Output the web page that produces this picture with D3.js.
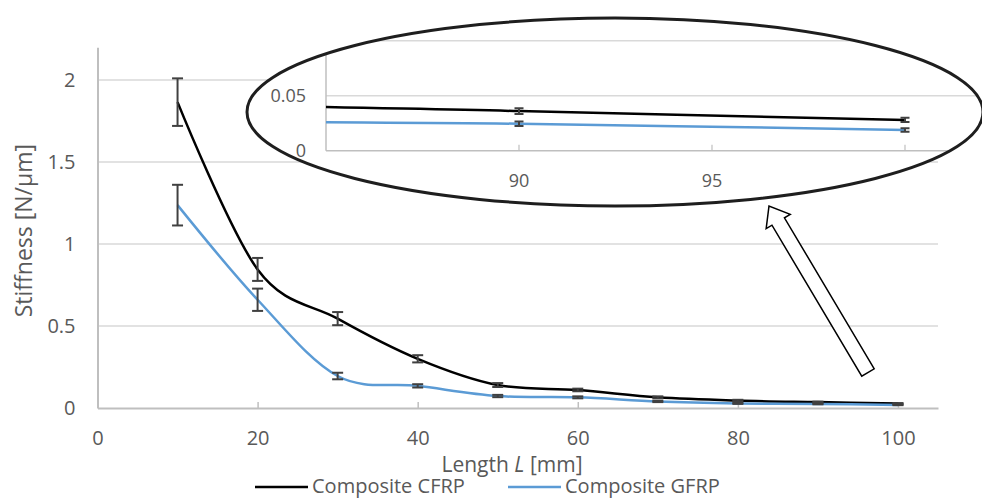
<!DOCTYPE html>
<html>
<head>
<meta charset="utf-8">
<script src="https://cdn.jsdelivr.net/npm/d3@7"></script>
<style>
  html, body { margin: 0; padding: 0; background: #fff; }
  svg { display: block; font-family: "Open Sans", "Noto Sans", sans-serif; }
</style>
</head>
<body>
<svg id="chart" width="982" height="498"></svg>
<script>
// Specimen lengths [mm]
const lengths = [10, 20, 30, 40, 50, 60, 70, 80, 90, 100];
// Mean stiffness [N/µm] and standard deviation per series
const cfrp    = [1.865, 0.845, 0.545, 0.300, 0.140, 0.110, 0.065, 0.045, 0.036, 0.028];
const cfrpErr = [0.145, 0.070, 0.040, 0.022, 0.012, 0.008, 0.006, 0.005, 0.0026, 0.002];
const gfrp    = [1.237, 0.660, 0.195, 0.135, 0.073, 0.065, 0.040, 0.028, 0.0245, 0.0188];
const gfrpErr = [0.124, 0.068, 0.020, 0.010, 0.007, 0.006, 0.004, 0.003, 0.002, 0.0015];
const seriesNames = ["Composite CFRP", "Composite GFRP"];

// Tick values for the main plot and the zoomed inset
const xTicks = [0, 20, 40, 60, 80, 100];
const yTicks = [0, 0.5, 1, 1.5, 2];
const insetXTicks = [90, 95, 100];
const insetYTicks = [0, 0.05];

const colors = ["#000000", "#5b9bd5"];
const gridColor = "#d9d9d9";
const axisColor = "#bfbfbf";
const textColor = "#595959";
const errColor = "#404040";

const series = [
  { name: seriesNames[0], values: cfrp, err: cfrpErr, color: colors[0] },
  { name: seriesNames[1], values: gfrp, err: gfrpErr, color: colors[1] }
];

const svg = d3.select("#chart");

// ---------- main plot ----------
const x = d3.scaleLinear().domain([0, 105]).range([97.5, 938]);
const y = d3.scaleLinear().domain([0, 2.2]).range([408, 47.2]);

const g = svg.append("g");

// horizontal gridlines
g.selectAll("line.grid").data(yTicks.filter(d => d > 0)).join("line")
  .attr("x1", x(0)).attr("x2", x(105))
  .attr("y1", d => y(d)).attr("y2", d => y(d))
  .attr("stroke", gridColor).attr("stroke-width", 1.5);

// x axis with inward ticks
const xAxis = d3.axisBottom(x).tickValues(xTicks).tickSizeInner(-6).tickSizeOuter(0).tickPadding(23);
const gx = g.append("g").attr("transform", `translate(0,${y(0)})`).call(xAxis);
gx.select(".domain").attr("stroke", axisColor).attr("stroke-width", 2);
gx.selectAll(".tick line").attr("stroke", axisColor).attr("stroke-width", 1.5)
  .attr("opacity", d => d === 0 ? 0 : 1);
gx.selectAll(".tick text").attr("fill", textColor).attr("font-size", 20)
  .attr("font-family", "Open Sans").attr("dy", "0.71em");

// y axis (line only, labels to the left)
const yAxis = d3.axisLeft(y).tickValues(yTicks).tickFormat(d => String(d)).tickSize(0).tickPadding(22);
const gy = g.append("g").attr("transform", `translate(${x(0)},0)`).call(yAxis);
gy.select(".domain").attr("stroke", axisColor).attr("stroke-width", 2);
gy.selectAll(".tick text").attr("fill", textColor).attr("font-size", 20)
  .attr("font-family", "Open Sans");

// axis titles
g.append("text")
  .attr("transform", `translate(24,${(y(0) + y(2.2)) / 2 + 3}) rotate(-90)`)
  .attr("text-anchor", "middle").attr("dy", "0.35em")
  .attr("fill", textColor).attr("font-size", 23)
  .text("Stiffness [N/µm]");

const xt = g.append("text")
  .attr("x", 512).attr("y", 472)
  .attr("text-anchor", "middle")
  .attr("fill", textColor).attr("font-size", 21);
xt.append("tspan").text("Length ");
xt.append("tspan").attr("font-style", "italic").text("L");
xt.append("tspan").text(" [mm]");

function drawSeries(parent, sx, sy, capHalf, width) {
  const ln = d3.line().x((d, i) => sx(lengths[i])).y(d => sy(d)).curve(d3.curveCardinal.tension(0));
  series.forEach(s => {
    parent.append("path")
      .attr("d", ln(s.values))
      .attr("fill", "none")
      .attr("stroke", s.color)
      .attr("stroke-width", width)
      .attr("stroke-linejoin", "round");
  });
  series.forEach(s => {
    const eb = parent.append("g").attr("stroke", errColor).attr("stroke-width", 2).attr("fill", "none");
    s.values.forEach((v, i) => {
      const cx = sx(lengths[i]);
      const top = sy(v + s.err[i]), bot = sy(v - s.err[i]);
      eb.append("line").attr("x1", cx).attr("x2", cx).attr("y1", top).attr("y2", bot);
      eb.append("line").attr("x1", cx - capHalf).attr("x2", cx + capHalf).attr("y1", top).attr("y2", top);
      eb.append("line").attr("x1", cx - capHalf).attr("x2", cx + capHalf).attr("y1", bot).attr("y2", bot);
    });
  });
}

drawSeries(g, x, y, 5.5, 2.5);

// ---------- zoomed inset inside an ellipse ----------
const ell = { cx: 615, cy: 112, rx: 368, ry: 94 };
const defs = svg.append("defs");
defs.append("clipPath").attr("id", "ellClip")
  .append("ellipse").attr("cx", ell.cx).attr("cy", ell.cy).attr("rx", ell.rx).attr("ry", ell.ry);
defs.append("clipPath").attr("id", "insetClip")
  .append("rect").attr("x", 326).attr("y", 0).attr("width", 700).attr("height", 200);

svg.append("ellipse")
  .attr("cx", ell.cx).attr("cy", ell.cy).attr("rx", ell.rx).attr("ry", ell.ry)
  .attr("fill", "#fff").attr("stroke", "none");

const ix = d3.scaleLinear().domain([85, 100]).range([326, 905]);
const iy = d3.scaleLinear().domain([0, 0.1]).range([150.7, 40.7]);

const inset = svg.append("g").attr("clip-path", "url(#ellClip)");

inset.selectAll("line.igrid").data([0.05, 0.1]).join("line")
  .attr("x1", ix(85)).attr("x2", 1000)
  .attr("y1", d => iy(d)).attr("y2", d => iy(d))
  .attr("stroke", gridColor).attr("stroke-width", 1.5);

// inset axes
inset.append("line").attr("x1", ix(85)).attr("x2", 1000).attr("y1", iy(0)).attr("y2", iy(0))
  .attr("stroke", axisColor).attr("stroke-width", 1.5);
inset.append("line").attr("x1", ix(85)).attr("x2", ix(85)).attr("y1", 0).attr("y2", iy(0))
  .attr("stroke", axisColor).attr("stroke-width", 1.5);
inset.selectAll("line.itick").data(insetXTicks).join("line")
  .attr("x1", d => ix(d)).attr("x2", d => ix(d))
  .attr("y1", iy(0)).attr("y2", iy(0) - 6)
  .attr("stroke", axisColor).attr("stroke-width", 1.2);

inset.selectAll("text.ixl").data(insetXTicks.filter(d => d < 100)).join("text")
  .attr("x", d => ix(d)).attr("y", 187)
  .attr("text-anchor", "middle").attr("fill", textColor).attr("font-size", 18)
  .text(d => d);
inset.selectAll("text.iyl").data(insetYTicks).join("text")
  .attr("x", 306).attr("y", d => iy(d)).attr("dy", "0.35em")
  .attr("text-anchor", "end").attr("fill", textColor).attr("font-size", 18)
  .text(d => d);

const insetPlot = inset.append("g").attr("clip-path", "url(#insetClip)");
drawSeries(insetPlot, ix, iy, 4.5, 2.5);

svg.append("ellipse")
  .attr("cx", ell.cx).attr("cy", ell.cy).attr("rx", ell.rx).attr("ry", ell.ry)
  .attr("fill", "none").attr("stroke", "#1e1e1e").attr("stroke-width", 3);

// ---------- hollow block arrow pointing at the inset ----------
function blockArrow(tail, tip, shaftW, headW, headL) {
  const dx = tip[0] - tail[0], dy = tip[1] - tail[1];
  const len = Math.hypot(dx, dy);
  const ux = dx / len, uy = dy / len, nx = -uy, ny = ux;
  const base = [tip[0] - ux * headL, tip[1] - uy * headL];
  const p = (pt, s) => [pt[0] + nx * s, pt[1] + ny * s];
  return [p(tail, shaftW / 2), p(base, shaftW / 2), p(base, headW / 2), tip,
          p(base, -headW / 2), p(base, -shaftW / 2), p(tail, -shaftW / 2)];
}
svg.append("polygon")
  .attr("points", blockArrow([868, 372.5], [769, 206], 14.5, 28, 18).map(d => d.join(",")).join(" "))
  .attr("fill", "#fff").attr("stroke", "#000").attr("stroke-width", 1.5)
  .attr("stroke-linejoin", "miter");

// ---------- legend ----------
const legendX = [255, 508];
const legend = svg.append("g");
series.forEach((s, i) => {
  const lg = legend.append("g").attr("transform", `translate(${legendX[i]},487)`);
  lg.append("line").attr("x1", 0).attr("x2", 53).attr("y1", 0).attr("y2", 0)
    .attr("stroke", s.color).attr("stroke-width", 2.5);
  lg.append("text").attr("x", 57).attr("y", 5.5)
    .attr("fill", textColor).attr("font-size", 20).text(s.name);
});
</script>
</body>
</html>
